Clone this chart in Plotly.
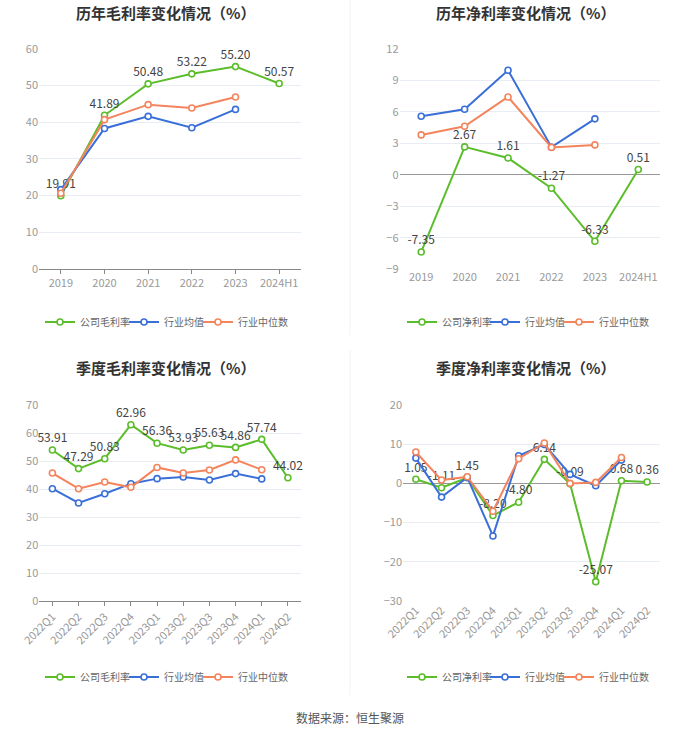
import plotly.graph_objects as go

# ---------------- data ----------------
years = ["2019", "2020", "2021", "2022", "2023", "2024H1"]
gross_company = [19.91, 41.89, 50.48, 53.22, 55.20, 50.57]
gross_mean = [21.6, 38.3, 41.6, 38.5, 43.5]
gross_median = [20.6, 40.7, 44.8, 43.9, 46.9]

net_company = [-7.35, 2.67, 1.61, -1.27, -6.33, 0.51]
net_mean = [5.59, 6.26, 9.97, 2.64, 5.34]
net_median = [3.81, 4.64, 7.43, 2.62, 2.86]

quarters = ["2022Q1", "2022Q2", "2022Q3", "2022Q4", "2023Q1", "2023Q2",
            "2023Q3", "2023Q4", "2024Q1", "2024Q2"]
qgross_company = [53.91, 47.29, 50.83, 62.96, 56.36, 53.93, 55.63, 54.86, 57.74, 44.02]
qgross_mean = [40.1, 35.0, 38.3, 41.9, 43.7, 44.3, 43.2, 45.5, 43.6]
qgross_median = [45.7, 40.1, 42.5, 40.6, 47.7, 45.7, 46.8, 50.4, 46.9]

qnet_company = [1.05, -1.11, 1.45, -8.20, -4.80, 6.14, -0.09, -25.07, 0.68, 0.36]
qnet_mean = [6.46, -3.49, 1.53, -13.4, 7.06, 9.95, 2.3, -0.6, 5.95]
qnet_median = [8.0, 0.85, 1.7, -7.1, 6.3, 10.3, 0.0, 0.25, 6.6]

titles = ["历年毛利率变化情况（%）", "历年净利率变化情况（%）",
          "季度毛利率变化情况（%）", "季度净利率变化情况（%）"]
company_names = ["公司毛利率", "公司净利率", "公司毛利率", "公司净利率"]
mean_name = "行业均值"
median_name = "行业中位数"
source_text = "数据来源：恒生聚源"

# ---------------- style ----------------
W, H = 700, 734
OFF = 0  # body margin removed below
GREEN = "#5cbd2b"
BLUE = "#3a6fd8"
ORANGE = "#f4845c"
FONT = "Noto Sans CJK SC"


def sx(px):
    return (px - OFF) / W


def sy(py):
    return 1 - (py - OFF) / H


panels = [
    dict(cats=years, comp=gross_company, mean=gross_mean, med=gross_median,
         xd=(39, 301), yd=(49, 268.7), yr=(0, 60), dt=10, rot=0,
         tx=165, ty=12, lx=(80, 164, 238), ly=322),
    dict(cats=years, comp=net_company, mean=net_mean, med=net_median,
         xd=(399.5, 660), yd=(49, 269.3), yr=(-9, 12), dt=3, rot=0,
         tx=525, ty=12, lx=(442, 525, 599), ly=322),
    dict(cats=quarters, comp=qgross_company, mean=qgross_mean, med=qgross_median,
         xd=(39.3, 301), yd=(405, 601), yr=(0, 70), dt=10, rot=-45,
         tx=165, ty=367, lx=(80, 164, 238), ly=677),
    dict(cats=quarters, comp=qnet_company, mean=qnet_mean, med=qnet_median,
         xd=(403, 660), yd=(405, 601), yr=(-30, 20), dt=10, rot=-45,
         tx=525, ty=367, lx=(442, 525, 599), ly=677),
]

fig = go.Figure()
layout = {}
annotations = []
lcount = 0
for i, p in enumerate(panels):
    n = i + 1
    xa = "x" if n == 1 else f"x{n}"
    ya = "y" if n == 1 else f"y{n}"
    names = [company_names[i], mean_name, median_name]
    ys = [p["comp"], p["mean"], p["med"]]
    colors = [GREEN, BLUE, ORANGE]
    for k in range(3):
        lcount += 1
        lg = "legend" if lcount == 1 else f"legend{lcount}"
        if k == 0:
            kw = dict(mode="lines+markers+text",
                      text=[f"{v:.2f}" for v in ys[k]], textposition="top center",
                      textfont=dict(size=12, color="#444", family=FONT), cliponaxis=False)
        else:
            kw = dict(mode="lines+markers")
        fig.add_trace(go.Scatter(
            x=p["cats"][:len(ys[k])], y=ys[k], name=names[k], showlegend=True,
            line=dict(color=colors[k], width=2),
            marker=dict(symbol="circle", size=6, color="white",
                        line=dict(color=colors[k], width=1.6)),
            xaxis=xa, yaxis=ya, legend=lg, **kw))
        layout[lg] = dict(orientation="h", x=sx(p["lx"][k] - 40), xanchor="left",
                          y=sy(p["ly"]), yanchor="middle",
                          font=dict(size=10, color="#666", family=FONT),
                          bgcolor="rgba(0,0,0,0)", itemwidth=30, borderwidth=0)

    neg = p["yr"][0] < 0
    xkey = "xaxis" if n == 1 else f"xaxis{n}"
    ykey = "yaxis" if n == 1 else f"yaxis{n}"
    layout[xkey] = dict(
        domain=[sx(p["xd"][0]), sx(p["xd"][1])], anchor=ya,
        type="category", range=[-0.5, len(p["cats"]) - 0.5],
        showgrid=False, showline=not neg, linecolor="#888", linewidth=1,
        ticks="" if neg else "outside", ticklen=4, tickcolor="#888",
        tickangle=p["rot"], tickfont=dict(size=11, color="#999", family=FONT),
        zeroline=False, fixedrange=True, automargin=False)
    layout[ykey] = dict(
        domain=[sy(p["yd"][1]), sy(p["yd"][0])], anchor=xa,
        range=list(p["yr"]), dtick=p["dt"], showgrid=True, gridcolor="#e8ecf3",
        gridwidth=1, zeroline=neg, zerolinecolor="#999", zerolinewidth=1,
        showline=False, ticks="", tickfont=dict(size=11, color="#999", family=FONT),
        fixedrange=True, automargin=False)
    annotations.append(dict(
        text=f"<b>{titles[i]}</b>", x=sx(p["tx"]), xref="paper",
        y=sy(p["ty"]), yref="paper", xanchor="center", yanchor="middle",
        showarrow=False, font=dict(size=15, color="#333", family=FONT)))

annotations.append(dict(
    text=source_text, x=sx(350), xref="paper", y=sy(717), yref="paper",
    xanchor="center", yanchor="middle", showarrow=False,
    font=dict(size=12, color="#555", family=FONT)))

shapes = [
    dict(type="line", xref="paper", yref="paper", x0=sx(350), x1=sx(350),
         y0=sy(335), y1=sy(0), line=dict(color="#f2f2f2", width=1)),
    dict(type="line", xref="paper", yref="paper", x0=sx(350), x1=sx(350),
         y0=sy(695), y1=sy(350), line=dict(color="#f2f2f2", width=1)),
]

fig.update_layout(
    width=W, height=H, margin=dict(l=0, r=0, t=0, b=0, pad=0, autoexpand=False),
    paper_bgcolor="white", plot_bgcolor="white", showlegend=True,
    font=dict(family=FONT), annotations=annotations, shapes=shapes,
    hovermode=False, **layout)

fig.write_html("out.html", config={"displayModeBar": False, "staticPlot": False},
               post_script="document.body.style.margin='0';document.body.style.padding='0';")
